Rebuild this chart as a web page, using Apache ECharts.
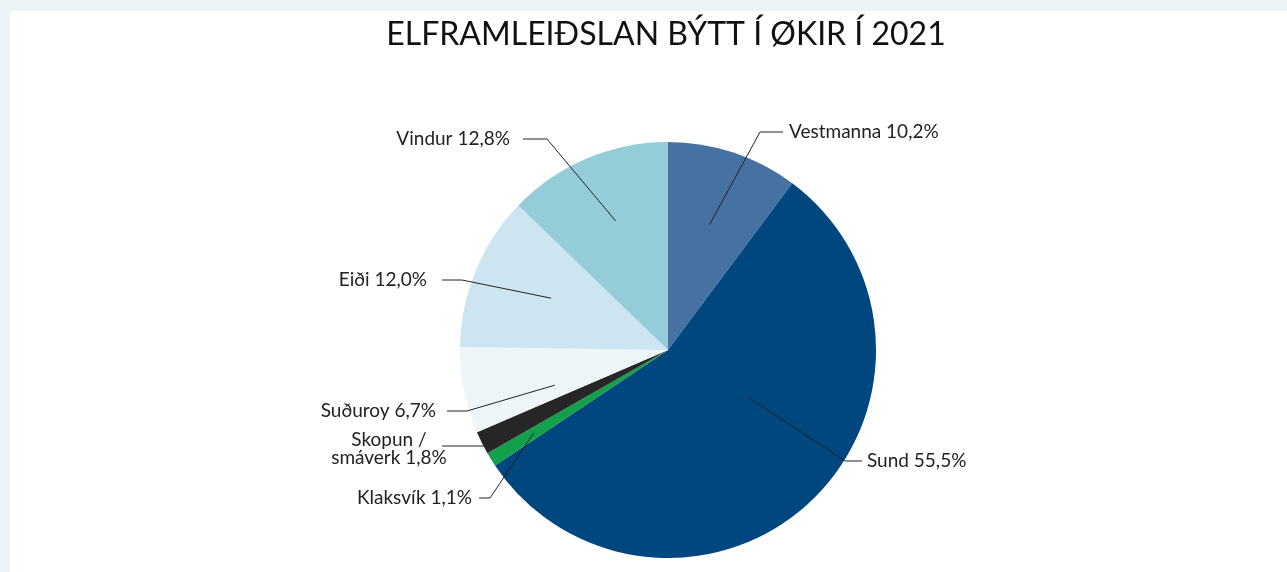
<!DOCTYPE html>
<html>
<head>
<meta charset="utf-8">
<script src="https://cdn.jsdelivr.net/npm/echarts@6/dist/echarts.min.js"></script>
<style>
  html, body { margin: 0; padding: 0; background: #eaf4f6; }
  #panel { position: absolute; left: 10px; top: 11px; right: 0; bottom: 0; background: #ffffff; }
  #main { position: absolute; left: 0; top: 0; width: 1287px; height: 572px; }
</style>
</head>
<body>
<div id="panel"></div>
<div id="main"></div>
<script>
// data
const names = ["Vestmanna", "Sund", "Klaksvík", "Skopun /\nsmáverk", "Suðuroy", "Eiði", "Vindur"];
const shares = [10.2, 55.5, 1.1, 1.8, 6.7, 12.0, 12.8];
const colors = ["#4672a1", "#00467f", "#12a14a", "#262626", "#eef5f9", "#cde5f0", "#94cdd8"];

// label spots: x, y, align, leader end x, elbow x
const labelSpots = [
  [789, 132, "left", 783, 760],
  [867, 461, "left", 862, 845],
  [472, 498, "right", 479, 490],
  [389, 449, "center", 442, 488],
  [436, 411, "right", 447, 467],
  [427, 280, "right", 442, 462],
  [510, 139, "right", 523, 547]
];
// where the leader starts inside the slice: position across slice (0..1), share of radius
const leaderFrom = [[0.5, 0.635], [0.42, 0.455], [0.5, 0.76], [0.33, 0.91], [0.25, 0.57], [0.535, 0.615], [0.52, 0.67]];

const center = [668, 350];
const radius = 208;
const total = shares.reduce((a, b) => a + b, 0);

function leaderStart(i) {
  let before = 0;
  for (let k = 0; k < i; k++) before += shares[k];
  const frac = (before + shares[i] * leaderFrom[i][0]) / total;
  const ang = frac * 2 * Math.PI;
  const r = radius * leaderFrom[i][1];
  return [center[0] + r * Math.sin(ang), center[1] - r * Math.cos(ang)];
}

var chartDom = document.getElementById("main");
var myChart = echarts.init(chartDom);
var option;
option = {
  backgroundColor: "transparent",
  title: {
    text: "ELFRAMLEIÐSLAN BÝTT Í ØKIR Í 2021",
    left: 661,
    top: 14,
    textAlign: "center",
    textStyle: {
      fontFamily: "Lato",
      fontSize: 32,
      fontWeight: "normal",
      color: "#111111"
    }
  },
  series: [
    {
      // the slices
      type: "pie",
      center: center,
      radius: radius,
      startAngle: 90,
      clockwise: true,
      silent: true,
      z: 2,
      data: names.map((n, i) => ({
        name: n,
        value: shares[i],
        itemStyle: { color: colors[i] }
      })),
      itemStyle: { borderWidth: 0 },
      label: { show: false },
      labelLine: { show: false },
      emphasis: { disabled: true }
    },
    {
      // same shares again, invisible, only carrying labels and leaders on top
      type: "pie",
      center: center,
      radius: radius,
      startAngle: 90,
      clockwise: true,
      avoidLabelOverlap: false,
      silent: true,
      z: 5,
      data: names.map((n, i) => ({ name: n, value: shares[i] })),
      itemStyle: { color: "rgba(0,0,0,0)", borderWidth: 0 },
      label: {
        show: true,
        position: "outside",
        fontFamily: "Lato",
        fontSize: 19,
        lineHeight: 18,
        color: "#222222",
        formatter: (p) => p.name + " " + p.value.toFixed(1).replace(".", ",") + "%"
      },
      labelLine: {
        show: true,
        showAbove: true,
        smooth: false,
        lineStyle: { color: "#222222", width: 1 }
      },
      labelLayout: (params) => {
        const s = labelSpots[params.dataIndex];
        const y = s[1];
        const lineY = params.dataIndex === 3 ? 446 : y;
        return {
          x: s[0],
          y: y,
          align: s[2],
          verticalAlign: "middle",
          labelLinePoints: [leaderStart(params.dataIndex), [s[4], lineY], [s[3], lineY]]
        };
      },
      emphasis: { disabled: true }
    }
  ]
};
option && myChart.setOption(option);
</script>
</body>
</html>
